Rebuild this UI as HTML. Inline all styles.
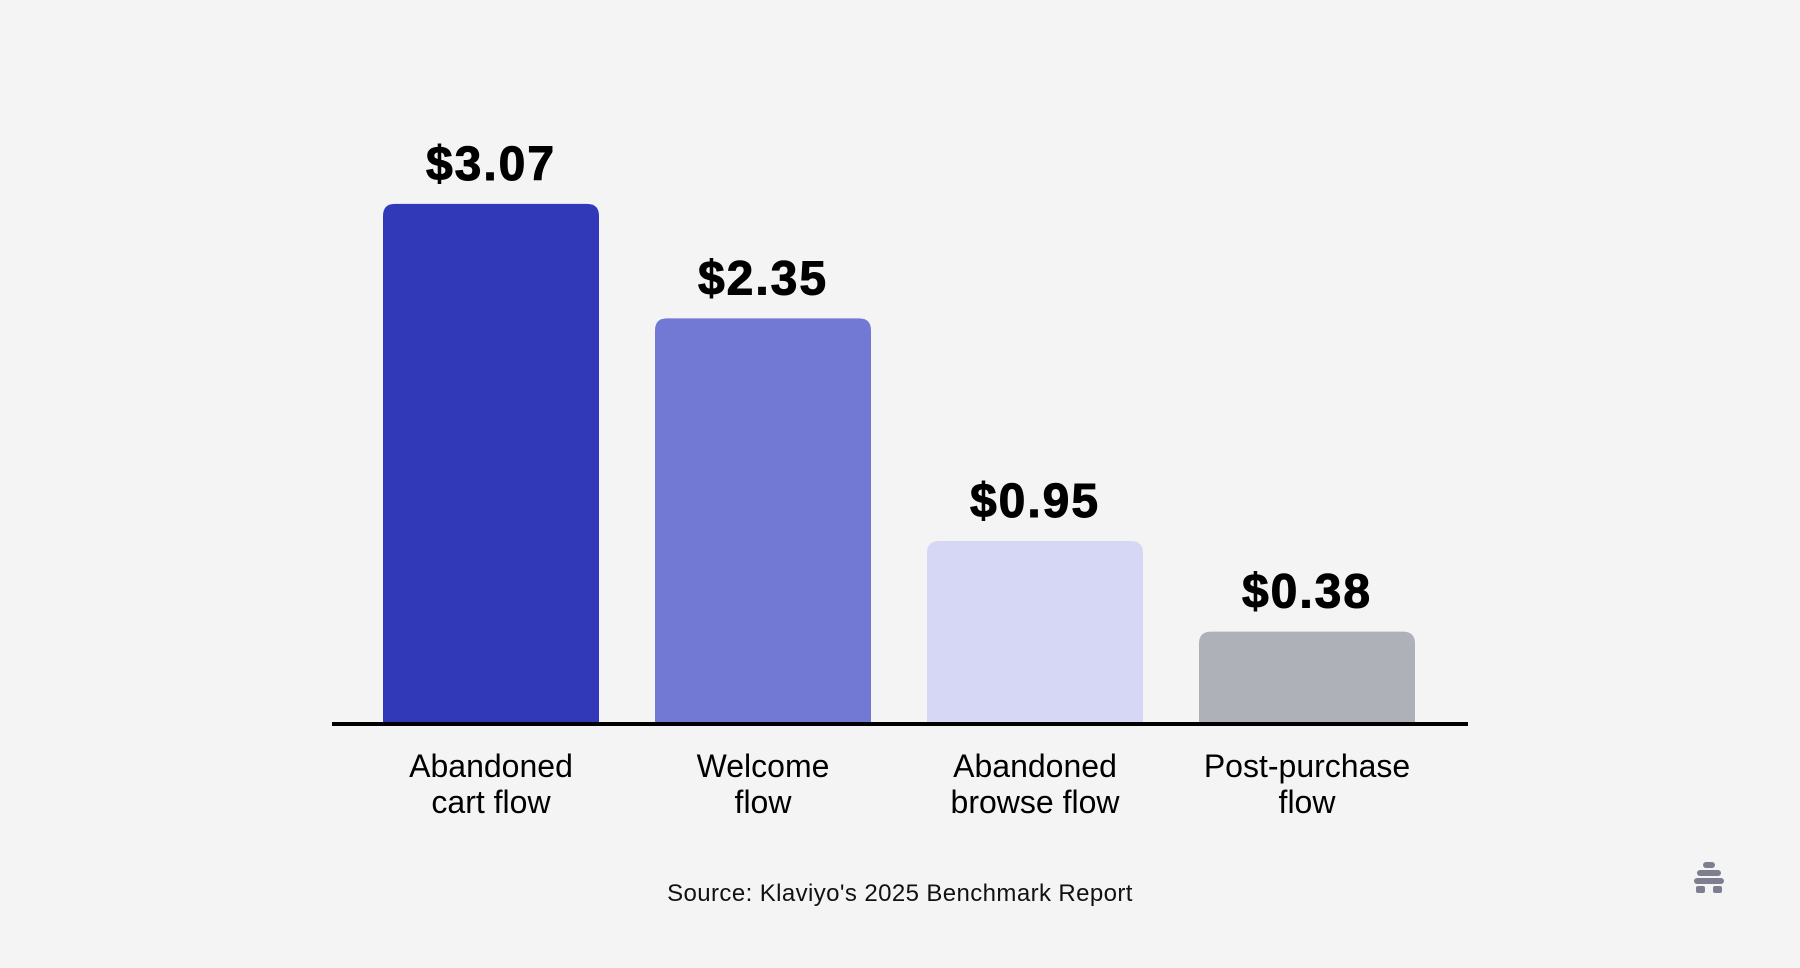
<!DOCTYPE html>
<html><head><meta charset="utf-8"><style>
html,body{margin:0;padding:0;background:#f4f4f4;}
svg{display:block}
</style></head><body>
<svg id="chart" width="1800" height="968" viewBox="0 0 1800 968" xmlns="http://www.w3.org/2000/svg" font-family="Liberation Sans, sans-serif">
<rect x="0" y="0" width="1800" height="968" fill="#f4f4f4"/>
<g id="bars"></g>
<rect x="332" y="722" width="1136" height="4" fill="#000"/>
<text x="900" y="901" text-anchor="middle" font-size="24" letter-spacing="0.4" fill="#111">Source: Klaviyo's 2025 Benchmark Report</text>
<g fill="#7d7f91">
<rect x="1703" y="862" width="12" height="6" rx="3"/>
<rect x="1697" y="870" width="24" height="6" rx="3"/>
<rect x="1694" y="878" width="30" height="6" rx="3"/>
<rect x="1696" y="886" width="9" height="7" rx="2"/>
<rect x="1713" y="886" width="9" height="7" rx="2"/>
</g>
</svg>
<script>
const categories = [["Abandoned","cart flow"],["Welcome","flow"],["Abandoned","browse flow"],["Post-purchase","flow"]];
const values = [3.07, 2.35, 0.95, 0.38];
const valueLabels = ["$3.07","$2.35","$0.95","$0.38"];
const colors = ["#3139b8","#7179d5","#d5d7f5","#aeb1b8"];
const NS = "http://www.w3.org/2000/svg";
const g = document.getElementById('bars');
const axisY = 723, barW = 216, x0 = 383, pitch = 272;
function xPos(i){ return x0 + i*pitch; }
function hScale(v){ return 31 + 159*v; }
values.forEach((v,i)=>{
  const h = hScale(v), x = xPos(i), top = axisY - h;
  const p = document.createElementNS(NS,'path');
  const r = 12;
  p.setAttribute('d',`M${x},${axisY} L${x},${top+r} Q${x},${top} ${x+r},${top} L${x+barW-r},${top} Q${x+barW},${top} ${x+barW},${top+r} L${x+barW},${axisY} Z`);
  p.setAttribute('fill',colors[i]);
  
  
  g.appendChild(p);
  const t = document.createElementNS(NS,'text');
  t.setAttribute('x', x+barW/2);
  t.setAttribute('y', top-24);
  t.setAttribute('text-anchor','middle');
  t.setAttribute('font-size','48');
  t.setAttribute('font-weight','bold');
  t.setAttribute('letter-spacing','2');
  t.setAttribute('stroke','#000');
  t.setAttribute('stroke-width','1');
  t.setAttribute('fill','#000');
  t.textContent = valueLabels[i];
  
  
  g.appendChild(t);
  categories[i].forEach((line,j)=>{
    const c = document.createElementNS(NS,'text');
    c.setAttribute('x', x+barW/2);
    c.setAttribute('y', 777 + j*36);
    c.setAttribute('text-anchor','middle');
    c.setAttribute('font-size','32');
    c.setAttribute('fill','#000');
    c.textContent = line;
    
    
    g.appendChild(c);
  });
});
</script>
</body></html>
